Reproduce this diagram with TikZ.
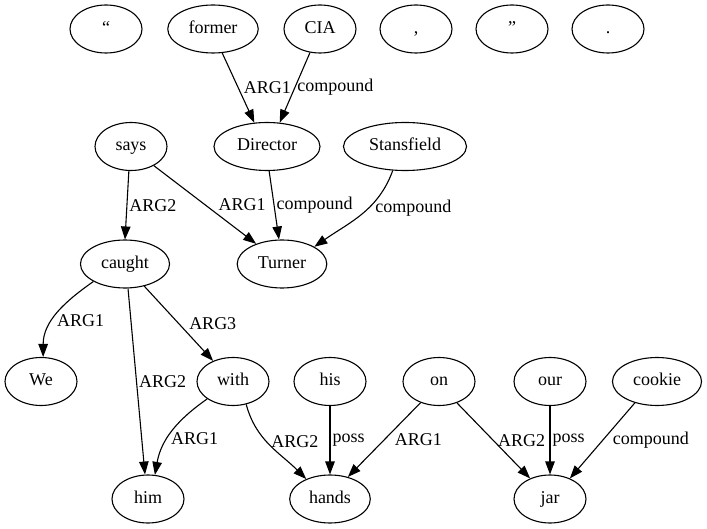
\documentclass[tikz,border=0pt]{standalone}
\usepackage{fontspec}
\setmainfont{Liberation Serif}
\usepackage{tikz}
\usetikzlibrary{shapes.geometric, arrows.meta, positioning}

\begin{document}
\begin{tikzpicture}[x=1pt, y=1pt, line width=1.1pt,
		>={Triangle[length=13pt, width=9.5pt]},
		word/.style={ellipse, draw, inner xsep=7.5pt, inner ysep=3pt, minimum width=72pt, minimum height=48pt, text height=12.5pt, text depth=4pt, font=\fontsize{18}{21}\selectfont},
		lbl/.style={inner sep=1pt, font=\fontsize{18}{21}\selectfont}]
		\useasboundingbox (0,0) rectangle (707,528);
		\draw (106,499) node[word] (lq) {“}
		(213,499) node[word] (former) {former}
		(320,499) node[word] (cia) {CIA}
		(416,499) node[word] (comma) {,}
		(512,499) node[word] (rq) {”}
		(608,499) node[word] (period) {.}
		(131,381.5) node[word] (says) {says}
		(267,381.5) node[word] (director) {Director}
		(405,381.5) node[word] (stansfield) {Stansfield}
		(125,264) node[word] (caught) {caught}
		(282,264) node[word] (turner) {Turner}
		(41,146.5) node[word] (we) {We}
		(233,146.5) node[word] (with) {with}
		(330,146.5) node[word] (his) {his}
		(439,146.5) node[word] (on) {on}
		(550,146.5) node[word] (our) {our}
		(657,146.5) node[word] (cookie) {cookie}
		(148,29) node[word] (him) {him}
		(330,29) node[word] (hands) {hands}
		(550,29) node[word] (jar) {jar};
		
		\draw[->] (former.291) -- node[lbl, right=4pt] {ARG1} (director.118);
		\draw[->] (cia.247) -- node[lbl, right=1pt] {compound} (director.62);
		\draw[->] (says.265) -- node[lbl, right=1pt] {ARG2} (caught.90);
		\draw[->] (says.320) -- node[lbl, right=12pt] {ARG1} (turner.142);
		\draw[->] (director.275) -- node[lbl, right=1pt] {compound} (turner.97);
		\draw[->] (stansfield.243) to[out=250, in=35] node[lbl, pos=0.4, right=5pt] {compound} (turner.28);
		\draw[->] (caught.209) to[out=215, in=90] node[lbl, pos=0.6, right=3pt] {ARG1} (we.85);
		\draw[->] (caught.277) -- node[lbl, right=1pt] {ARG2} (him.97);
		\draw[->] (caught.311) -- node[lbl, right=9pt] {ARG3} (with.134);
		\draw[->] (with.214) to[out=215, in=80] node[lbl, pos=0.6, right=2pt] {ARG1} (him.74);
		\draw[->] (with.300) to[out=-75, in=135] node[lbl, pos=0.45, right=3pt] {ARG2} (hands.140);
		\draw[->] (his) -- node[lbl, right=1pt] {poss} (hands);
		\draw[->] (on.229) -- node[lbl, right=9pt] {ARG1} (hands.51);
		\draw[->] (on.310) -- node[lbl, right=3pt] {ARG2} (jar.134);
		\draw[->] (our) -- node[lbl, right=1pt] {poss} (jar);
		\draw[->] (cookie.224) -- node[lbl, right=9pt] {compound} (jar.46);
	\end{tikzpicture}
\end{document}
